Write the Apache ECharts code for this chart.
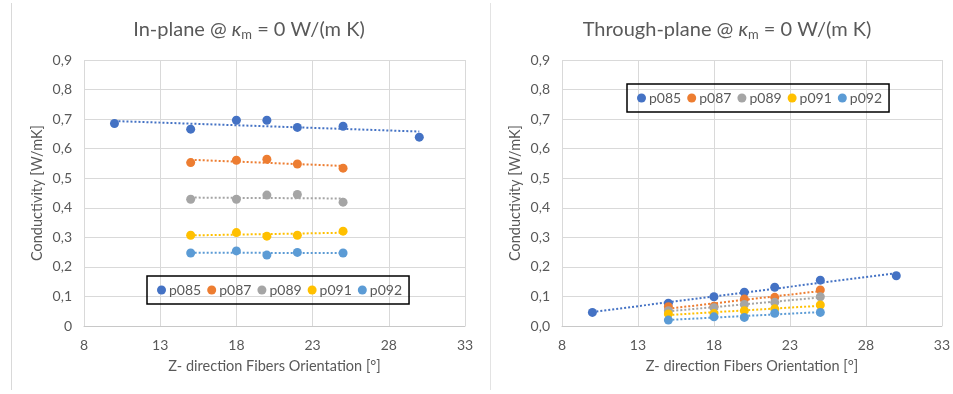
<!DOCTYPE html>
<html>
<head>
<meta charset="utf-8">
<script src="https://cdn.jsdelivr.net/npm/echarts@6/dist/echarts.min.js"></script>
<style>
  html, body { margin: 0; padding: 0; background: #fff; }
  #chart { width: 953px; height: 394px; }
</style>
</head>
<body>
<div id="chart"></div>
<script>
// Fibre orientation in the z direction [°]
const fiberAngle = [10, 15, 18, 20, 22, 25, 30];

const sampleNames = ['p085', 'p087', 'p089', 'p091', 'p092'];
const sampleColors = ['#4472C4', '#ED7D31', '#A5A5A5', '#FFC000', '#5B9BD5'];

// In-plane conductivity [W/mK], one value per fiberAngle (null = not measured)
const inPlaneP085 = [0.685, 0.666, 0.696, 0.696, 0.672, 0.676, 0.639];
const inPlaneP087 = [null, 0.553, 0.561, 0.564, 0.548, 0.534, null];
const inPlaneP089 = [null, 0.429, 0.429, 0.443, 0.445, 0.419, null];
const inPlaneP091 = [null, 0.307, 0.316, 0.304, 0.307, 0.321, null];
const inPlaneP092 = [null, 0.247, 0.254, 0.240, 0.249, 0.247, null];

// Through-plane conductivity [W/mK]
const throughP085 = [0.046, 0.077, 0.099, 0.114, 0.131, 0.155, 0.170];
const throughP087 = [null, 0.065, 0.067, 0.091, 0.097, 0.122, null];
const throughP089 = [null, 0.052, 0.062, 0.073, 0.080, 0.099, null];
const throughP091 = [null, 0.041, 0.042, 0.052, 0.058, 0.071, null];
const throughP092 = [null, 0.020, 0.031, 0.029, 0.043, 0.046, null];

const inPlane = [inPlaneP085, inPlaneP087, inPlaneP089, inPlaneP091, inPlaneP092];
const throughPlane = [throughP085, throughP087, throughP089, throughP091, throughP092];

const FONT = 'Lato, "DejaVu Sans", sans-serif';
const TXT = '#595959';

function points(values) {
  const out = [];
  values.forEach((v, i) => { if (v !== null) out.push([fiberAngle[i], v]); });
  return out;
}

// Linear least-squares trendline spanning the measured range
function trend(values) {
  const p = points(values);
  const n = p.length;
  const mx = p.reduce((s, q) => s + q[0], 0) / n;
  const my = p.reduce((s, q) => s + q[1], 0) / n;
  let sxy = 0, sxx = 0;
  p.forEach(q => { sxy += (q[0] - mx) * (q[1] - my); sxx += (q[0] - mx) * (q[0] - mx); });
  const k = sxy / sxx;
  const x0 = p[0][0], x1 = p[n - 1][0];
  return [[x0, my + k * (x0 - mx)], [x1, my + k * (x1 - mx)]];
}

function comma(v) { return v.toFixed(1).replace('.', ','); }

function makeSeries(sets, axisIndex) {
  const out = [];
  sets.forEach((vals, i) => {
    out.push({
      name: sampleNames[i], type: 'line', xAxisIndex: axisIndex, yAxisIndex: axisIndex,
      data: trend(vals), showSymbol: false, silent: true, z: 1,
      lineStyle: { color: sampleColors[i], width: 2, type: [2, 2] },
      itemStyle: { color: sampleColors[i] }
    });
  });
  sets.forEach((vals, i) => {
    out.push({
      name: sampleNames[i], type: 'scatter', xAxisIndex: axisIndex, yAxisIndex: axisIndex,
      data: points(vals), symbol: 'circle', symbolSize: 9, z: 3,
      itemStyle: { color: sampleColors[i], opacity: 1 }
    });
  });
  return out;
}

function xAxis(gridIndex) {
  return {
    type: 'value', gridIndex, min: 8, max: 33, interval: 5,
    name: 'Z- direction Fibers Orientation [°]', nameLocation: 'middle', nameGap: 33,
    nameTextStyle: { color: TXT, fontSize: 14.5, fontFamily: FONT },
    axisLine: { show: true, lineStyle: { color: '#c8c8c8', width: 1 } },
    axisTick: { show: false },
    axisLabel: { color: TXT, fontSize: 14, fontFamily: FONT, margin: 12 },
    splitLine: { show: true, lineStyle: { color: '#d9d9d9', width: 1 } }
  };
}

function yAxis(gridIndex, zeroLabel) {
  return {
    type: 'value', gridIndex, min: 0, max: 0.9, interval: 0.1,
    name: 'Conductivity [W/mK]', nameLocation: 'middle', nameGap: 39,
    nameTextStyle: { color: TXT, fontSize: 14.5, fontFamily: FONT },
    axisLine: { show: false }, axisTick: { show: false },
    axisLabel: {
      color: TXT, fontSize: 14, fontFamily: FONT, margin: 12,
      formatter: v => (Math.abs(v) < 1e-9 ? zeroLabel : comma(v))
    },
    splitLine: { show: true, lineStyle: { color: '#d9d9d9', width: 1 } }
  };
}

function titleRich() {
  return {
    t: { fontSize: 20, color: TXT, fontFamily: FONT, fontWeight: 'normal' },
    k: { fontSize: 20, color: TXT, fontFamily: FONT, fontWeight: 'normal', fontStyle: 'italic' },
    s: { fontSize: 13, color: TXT, fontFamily: FONT, fontWeight: 'normal', padding: [10, 0, 0, 0] }
  };
}

function legend(left, top) {
  return {
    data: sampleNames, left, top, orient: 'horizontal',
    icon: 'circle', itemWidth: 9, itemHeight: 9, itemGap: 6,
    padding: [7, 7, 7, 10], borderColor: '#000', borderWidth: 1.5,
    textStyle: { color: TXT, fontSize: 14, fontFamily: FONT, padding: [0, 0, 0, -2] }
  };
}

const chart = echarts.init(document.getElementById('chart'), null, { renderer: 'canvas' });
chart.setOption({
  animation: false,
  backgroundColor: '#fff',
  title: [
    { text: '{t|In-plane @ }{k|κ}{s|m}{t| = 0 W/(m K)}', left: 244, top: 13, textAlign: 'center',
      textStyle: { fontWeight: 'normal', rich: titleRich() } },
    { text: '{t|Through-plane @ }{k|κ}{s|m}{t| = 0 W/(m K)}', left: 722, top: 13, textAlign: 'center',
      textStyle: { fontWeight: 'normal', rich: titleRich() } }
  ],
  legend: [legend(147, 276), legend(627, 84)],
  grid: [
    { left: 84, right: 488, top: 60, bottom: 68 },
    { left: 562, right: 10, top: 60, bottom: 68 }
  ],
  xAxis: [xAxis(0), xAxis(1)],
  yAxis: [yAxis(0, '0'), yAxis(1, '0,0')],
  series: makeSeries(inPlane, 0).concat(makeSeries(throughPlane, 1)),
  graphic: [
    { type: 'line', shape: { x1: 11.5, y1: 3, x2: 11.5, y2: 390 }, style: { stroke: '#d9d9d9', lineWidth: 1 } },
    { type: 'line', shape: { x1: 490.5, y1: 3, x2: 490.5, y2: 390 }, style: { stroke: '#e3e3e3', lineWidth: 1 } }
  ]
});
</script>
</body>
</html>
